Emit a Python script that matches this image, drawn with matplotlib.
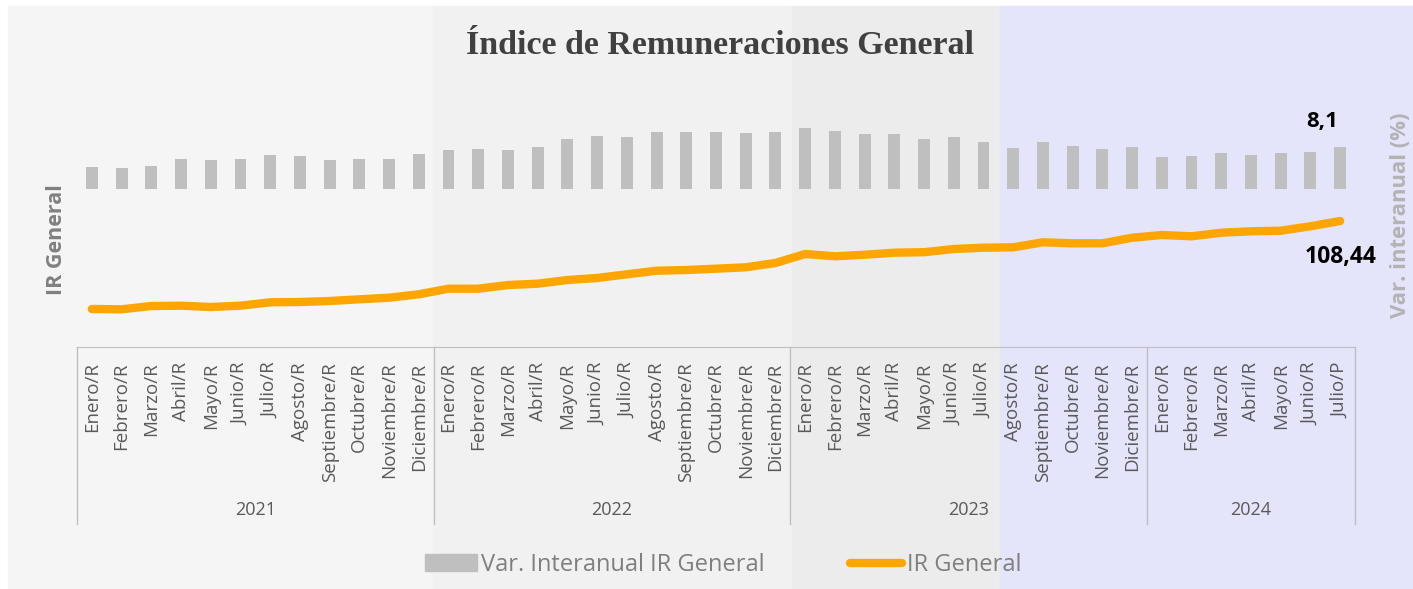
import matplotlib
matplotlib.use("Agg")
import matplotlib.pyplot as plt
from matplotlib.patches import Rectangle
import matplotlib.transforms as mtransforms

# Datos
months = ["Enero", "Febrero", "Marzo", "Abril", "Mayo", "Junio", "Julio",
          "Agosto", "Septiembre", "Octubre", "Noviembre", "Diciembre"]
years = ["2021", "2022", "2023", "2024"]
month_labels = ([m + "/R" for m in months] * 3
                + [m + "/R" for m in months[:6]] + ["Julio/P"])

var_interanual = [4.3, 4.1, 4.4, 5.8, 5.6, 5.9, 6.5, 6.4, 5.7, 5.9, 5.9, 6.8,
                  7.5, 7.7, 7.5, 8.1, 9.7, 10.2, 10.0, 11.0, 11.0, 10.9, 10.8, 10.9,
                  11.7, 11.2, 10.6, 10.6, 9.7, 10.0, 9.1, 7.9, 9.1, 8.3, 7.7, 8.1,
                  6.2, 6.4, 6.9, 6.6, 6.9, 7.1, 8.1]
ir_general = [81.11, 81.02, 82.04, 82.14, 81.73, 82.14, 83.19, 83.28, 83.60, 84.12, 84.62, 85.68,
              87.42, 87.42, 88.56, 88.97, 90.12, 90.74, 91.89, 93.00, 93.22, 93.63, 94.06, 95.40,
              98.19, 97.48, 97.97, 98.60, 98.75, 99.74, 100.15, 100.27, 101.83, 101.51, 101.51, 103.25,
              104.09, 103.69, 104.81, 105.24, 105.43, 106.80, 108.44]
year_sizes = [12, 12, 12, 7]

W, H = 1413, 589
fig = plt.figure(figsize=(W / 100, H / 100), dpi=100)
fig.patch.set_facecolor("white")

# fondos por bloques
panels = [(8, 433, "#f5f5f5"), (433, 792, "#f1f1f1"),
          (792, 1000, "#ececec"), (1000, 1413, "#e4e4fb")]
for x0, x1, c in panels:
    fig.patches.append(Rectangle((x0 / W, 0), (x1 - x0) / W, (H - 6) / H,
                                 transform=fig.transFigure, color=c, zorder=-10))

left, right, top, bottom = 77, 1355, 100, 347
ax = fig.add_axes([left / W, 1 - bottom / H, (right - left) / W, (bottom - top) / H])
ax.patch.set_alpha(0)
ax2 = ax.twinx()
ax2.patch.set_alpha(0)

x = list(range(len(month_labels)))
ax2.bar(x, var_interanual, width=0.4, color="#bfbfbf", zorder=1)
ax.plot(x, ir_general, color="#ffa500", lw=6, solid_capstyle="round", zorder=3)
ax.set_zorder(ax2.get_zorder() + 1)

ax.set_xlim(-0.5, len(x) - 0.5)
ax.set_ylim(69.31, 146.02)
ax2.set_ylim(-30.21, 17.11)

for a in (ax, ax2):
    for s in a.spines.values():
        s.set_visible(False)
    a.set_yticks([])
ax.spines["bottom"].set_visible(True)
ax.spines["bottom"].set_color("#bfbfbf")

ax.set_xticks(x)
ax.set_xticklabels(month_labels, rotation=90, va="top", ha="center",
                   fontsize=13.5, color="#595959", family=["Open Sans", "DejaVu Sans"])
ax.tick_params(axis="x", length=0, pad=11)

# separadores de año y etiquetas
trans = mtransforms.blended_transform_factory(ax.transData, ax.transAxes)
sep_depth = (524 - bottom) / (bottom - top)
start = 0
bounds = [-0.5]
for yr, n in zip(years, year_sizes):
    mid = start + (n - 1) / 2
    ax.text(mid, -(510 - bottom) / (bottom - top), yr, transform=trans,
            ha="center", va="center", fontsize=13, color="#595959",
            family=["Open Sans", "DejaVu Sans"])
    start += n
    bounds.append(start - 0.5)
for b in bounds:
    ax.plot([b, b], [0, -sep_depth], transform=trans, color="#bfbfbf",
            lw=1, clip_on=False)

# anotaciones
ax2.annotate("8,1", (x[-1], var_interanual[-1]), xytext=(-18, 26), textcoords="offset pixels",
             ha="center", va="center", fontsize=16, fontweight="bold", color="black",
             family=["Open Sans", "DejaVu Sans"])
ax.annotate("108,44", (x[-1], ir_general[-1]), xytext=(0, -36), textcoords="offset pixels",
            ha="center", va="center", fontsize=16.5, fontweight="bold", color="black",
            family=["Open Sans", "DejaVu Sans"])

# títulos y ejes
fig.text(720 / W, 1 - 46 / H, "Índice de Remuneraciones General", ha="center", va="center",
         fontsize=24.5, fontweight="bold", color="#404040", family=["Liberation Serif", "DejaVu Serif"])
fig.text(56 / W, 1 - 240 / H, "IR General", rotation=90, ha="center", va="center",
         fontsize=15.5, fontweight="bold", color="#808080", family=["Open Sans", "DejaVu Sans"])
fig.text(1400 / W, 1 - 215 / H, "Var. interanual (%)", rotation=90, ha="center", va="center",
         fontsize=15.8, fontweight="bold", color="#b3b3b3", family=["Open Sans", "DejaVu Sans"])

# leyenda
h1 = Rectangle((0, 0), 1, 1, color="#bfbfbf")
h2 = plt.Line2D([0], [0], color="#ffa500", lw=6, solid_capstyle="round")
leg = fig.legend([h1, h2], ["Var. Interanual IR General", "IR General"], ncol=2,
                 loc="center", bbox_to_anchor=(723 / W, 1 - 565 / H), frameon=False,
                 handlelength=2.2, handletextpad=0.2, columnspacing=3.6,
                 prop={"family": ["Open Sans", "DejaVu Sans"], "size": 17})
for t in leg.get_texts():
    t.set_color("#7f7f7f")

fig.savefig("out.png", dpi=100)
